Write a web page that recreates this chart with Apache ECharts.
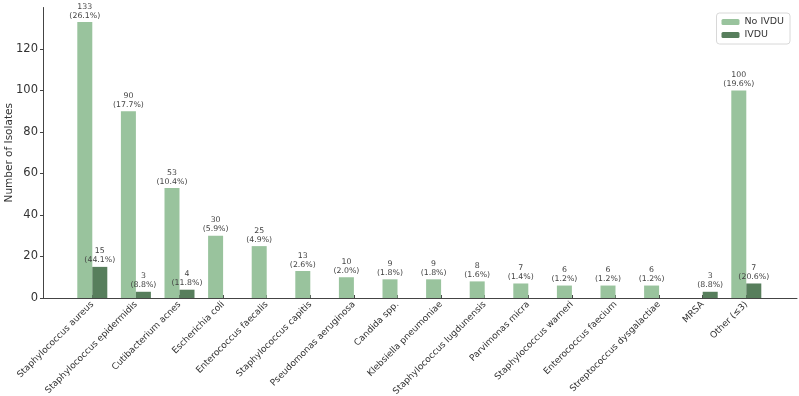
<!DOCTYPE html>
<html>
<head>
<meta charset="utf-8">
<script src="https://cdn.jsdelivr.net/npm/echarts@6/dist/echarts.min.js"></script>
<style>
  html, body { margin: 0; padding: 0; background: #fff; }
  #chart { width: 799px; height: 396px; }
</style>
</head>
<body>
<div id="chart"></div>
<script>
const categories = [
  'Staphylococcus aureus', 'Staphylococcus epidermidis', 'Cutibacterium acnes',
  'Escherichia coli', 'Enterococcus faecalis', 'Staphylococcus capitis',
  'Pseudomonas aeruginosa', 'Candida spp.', 'Klebsiella pneumoniae',
  'Staphylococcus lugdunensis', 'Parvimonas micra', 'Staphylococcus warneri',
  'Enterococcus faecium', 'Streptococcus dysgalactiae', 'MRSA', 'Other (≤3)',
];
const noIvdu = [133, 90, 53, 30, 25, 13, 10, 9, 9, 8, 7, 6, 6, 6, 0, 100];
const noIvduPct = ['26.1', '17.7', '10.4', '5.9', '4.9', '2.6', '2.0', '1.8', '1.8', '1.6', '1.4', '1.2', '1.2', '1.2', '', '19.6'];
const ivdu = [15, 3, 4, 0, 0, 0, 0, 0, 0, 0, 0, 0, 0, 0, 3, 7];
const ivduPct = ['44.1', '8.8', '11.8', '', '', '', '', '', '', '', '', '', '', '', '8.8', '20.6'];
const yTicks = [0, 20, 40, 60, 80, 100, 120];

const FONT = 'DejaVu Sans';
const AXIS_COLOR = '#444';

const buildData = (values, pcts) =>
  values.map((v, i) => ({
    value: v,
    label: { show: v > 0, formatter: v + '\n(' + pcts[i] + '%)' },
  }));

const barLabel = {
  position: 'top',
  distance: 2,
  fontFamily: FONT,
  fontSize: 7.8,
  lineHeight: 9,
  color: '#444',
  align: 'center',
};

const chart = echarts.init(document.getElementById('chart'));
const option = {
  animation: false,
  textStyle: { fontFamily: FONT },
  // grid 0 carries the spines (matplotlib-like x margins), grid 1 the bars
  grid: [
    { left: 43, right: 2, top: 7.5, bottom: 98, outerBoundsMode: 'none' },
    { left: 70.5, right: 30.9, top: 7.5, bottom: 98, outerBoundsMode: 'none' },
  ],
  legend: {
    right: 9,
    top: 13,
    orient: 'vertical',
    itemWidth: 18,
    itemHeight: 6,
    itemGap: 3,
    padding: [4, 6, 4, 5],
    borderColor: '#d8d8d8',
    borderWidth: 1,
    borderRadius: 3,
    backgroundColor: 'rgba(255,255,255,0.8)',
    textStyle: { fontFamily: FONT, fontSize: 9.5, color: '#333' },
    data: ['No IVDU', 'IVDU'],
  },
  xAxis: [
    {
      gridIndex: 0,
      type: 'value',
      min: 0,
      max: 1,
      splitLine: { show: false },
      axisLine: { show: true, onZero: false, lineStyle: { color: AXIS_COLOR, width: 1 } },
      axisTick: { show: false },
      axisLabel: { show: false },
    },
    {
      gridIndex: 1,
      type: 'category',
      data: categories,
      axisLine: { show: false },
      axisTick: {
        show: true,
        inside: true,
        length: 3,
        alignWithLabel: true,
        lineStyle: { color: AXIS_COLOR },
      },
      axisLabel: {
        interval: 0,
        rotate: 45,
        margin: 5,
        fontFamily: FONT,
        fontSize: 9,
        color: '#333',
      },
    },
  ],
  yAxis: [
    {
      gridIndex: 0,
      type: 'value',
      min: 0,
      max: 140,
      name: 'Number of Isolates',
      nameLocation: 'middle',
      nameGap: 28,
      nameMoveOverlap: false,
      nameTextStyle: { fontFamily: FONT, fontSize: 10.5, color: '#333' },
      splitLine: { show: false },
      axisLine: { show: true, onZero: false, lineStyle: { color: AXIS_COLOR, width: 1 } },
      axisTick: {
        show: true,
        length: 3,
        customValues: yTicks,
        lineStyle: { color: AXIS_COLOR },
      },
      axisLabel: {
        customValues: yTicks,
        margin: 5,
        fontFamily: FONT,
        fontSize: 11.5,
        color: '#333',
      },
    },
    {
      gridIndex: 1,
      type: 'value',
      min: 0,
      max: 140,
      show: false,
      splitLine: { show: false },
    },
  ],
  series: [
    {
      name: 'No IVDU',
      type: 'bar',
      xAxisIndex: 1,
      yAxisIndex: 1,
      barWidth: 15,
      barGap: '0%',
      itemStyle: { color: '#99c39d' },
      label: barLabel,
      data: buildData(noIvdu, noIvduPct),
    },
    {
      name: 'IVDU',
      type: 'bar',
      xAxisIndex: 1,
      yAxisIndex: 1,
      barWidth: 15,
      barGap: '0%',
      itemStyle: { color: '#577e5c' },
      label: barLabel,
      data: buildData(ivdu, ivduPct),
    },
  ],
};
chart.setOption(option);
</script>
</body>
</html>
